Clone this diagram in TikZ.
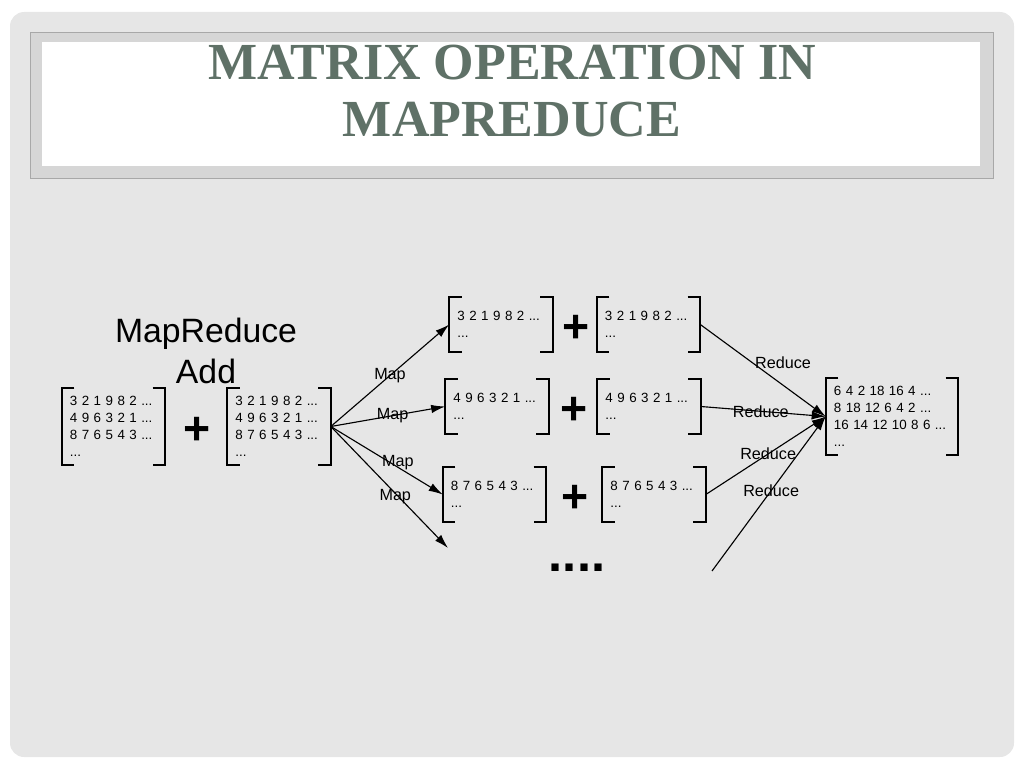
\documentclass[tikz,border=0pt]{standalone}
\usepackage{fontspec}
\setmainfont{Liberation Sans}
\newfontfamily\titlefont{Liberation Serif}
\usetikzlibrary{positioning,arrows.meta}
\definecolor{slidebg}{HTML}{E6E6E6}
\definecolor{bandgray}{HTML}{D6D6D6}
\definecolor{bandline}{HTML}{A8A8A8}
\definecolor{titlegreen}{HTML}{5F7167}

% square brackets round a matrix node
\newcommand{\matbrackets}[1]{%
	\draw[brk] ([xshift=9pt]#1.north west) -- (#1.north west) -- (#1.south west) -- ([xshift=9pt]#1.south west);
	\draw[brk] ([xshift=-9pt]#1.north east) -- (#1.north east) -- (#1.south east) -- ([xshift=-9pt]#1.south east);
}

\begin{document}
\begin{tikzpicture}[
				x=0.025cm, y=-0.025cm,
				mat/.style={
					text width=2.175cm,
					inner xsep=0.2cm,
					inner ysep=0pt,
					minimum height=1.925cm,
					align=left,
					font=\fontsize{9.5}{12}\selectfont
				},
				smallmat/.style={
					mat,
					minimum height=1.375cm
				},
				resmat/.style={
					mat,
					text width=2.9cm
				},
				brk/.style={
					line width=1.5pt
				},
				plussign/.style={
					minimum width=#1,
					inner sep=0pt,
					yshift=-3pt,
					font=\fontsize{33}{33}\selectfont\bfseries
				},
				maparrow/.style={
					-{Latex[length=10pt,width=6pt]},
					line width=0.8pt
				},
				lbl/.style={
					inner sep=0pt,
					font=\fontsize{11.5}{13}\selectfont
				}
				]
				
				\useasboundingbox (0,0) rectangle (1024,768);
				
				% slide and title band
				\fill[slidebg, rounded corners=10pt] (10,12) rectangle (1014,757);
				\draw[bandline, fill=bandgray] (30,32) rectangle (993,178);
				\fill[white] (42,42) rectangle (980,166);
				
				\node[
					font=\titlefont\bfseries\fontsize{37}{40.4}\selectfont,
					text=titlegreen,
					align=center
				] (title) at (512,91) {MATRIX OPERATION IN\\MAPREDUCE};
				
				\node[align=center, font=\fontsize{24}{29}\selectfont] (head) at (206,351) {MapReduce\\Add};
				
				% input matrices
				\node[mat] (A) at (113.5,426.5) {
					3 2 1 9 8 2 ...\\
					4 9 6 3 2 1 ...\\
					8 7 6 5 4 3 ...\\
					...
				};
				\node[plussign=1.575cm, right=0pt of A] (plusAB) {+};
				\node[mat] (B) at (279,426.5) {
					3 2 1 9 8 2 ...\\
					4 9 6 3 2 1 ...\\
					8 7 6 5 4 3 ...\\
					...
				};
				
				% row by row
				\node[smallmat] (m1a) at (501,324.5) {3 2 1 9 8 2 ...\\...};
				\node[plussign=1.125cm, right=0pt of m1a] (p1) {+};
				\node[smallmat] (m1b) at (648.5,324.5) {3 2 1 9 8 2 ...\\...};
				
				\node[smallmat] (m2a) at (497,406.5) {4 9 6 3 2 1 ...\\...};
				\node[plussign=1.25cm, right=0pt of m2a] (p2) {+};
				\node[smallmat] (m2b) at (649,406.5) {4 9 6 3 2 1 ...\\...};
				
				\node[smallmat] (m3a) at (494.5,494.5) {8 7 6 5 4 3 ...\\...};
				\node[plussign=1.425cm, right=0pt of m3a] (p3) {+};
				\node[smallmat] (m3b) at (654,494.5) {8 7 6 5 4 3 ...\\...};
				
				\node[font=\fontsize{36}{36}\selectfont\bfseries] (dots) at (577,568) {....};
				
				% result
				\node[resmat] (R) at (892,416.5) {
					6 4 2 18 16 4 ...\\
					8 18 12 6 4 2 ...\\
					16 14 12 10 8 6 ...\\
					...
				};
				
				\foreach \m in {A,B,m1a,m1b,m2a,m2b,m3a,m3b,R}
					\matbrackets{\m};
				
				\coordinate (mapend) at (448,548);
				\coordinate (redstart) at (712,571);
				
				\draw[maparrow] (B.east) -- node[lbl, pos=0.5] {Map} (m1a.west);
				\draw[maparrow] (B.east) -- node[lbl, pos=0.54] {Map} (m2a.west);
				\draw[maparrow] (B.east) -- node[lbl, pos=0.6, yshift=3pt] {Map} (m3a.west);
				\draw[maparrow] (B.east) -- node[lbl, pos=0.55, yshift=-2.5pt] {Map} (mapend);
				
				\draw[maparrow] (m1b.east) -- node[lbl, pos=0.66, yshift=16pt] {Reduce} (R.west);
				\draw[maparrow] (m2b.east) -- node[lbl, pos=0.48] {Reduce} (R.west);
				\draw[maparrow] (m3b.east) -- node[lbl, pos=0.52] {Reduce} (R.west);
				\draw[maparrow] (redstart) -- node[lbl, pos=0.52] {Reduce} (R.west);
				
			\end{tikzpicture}
\end{document}
